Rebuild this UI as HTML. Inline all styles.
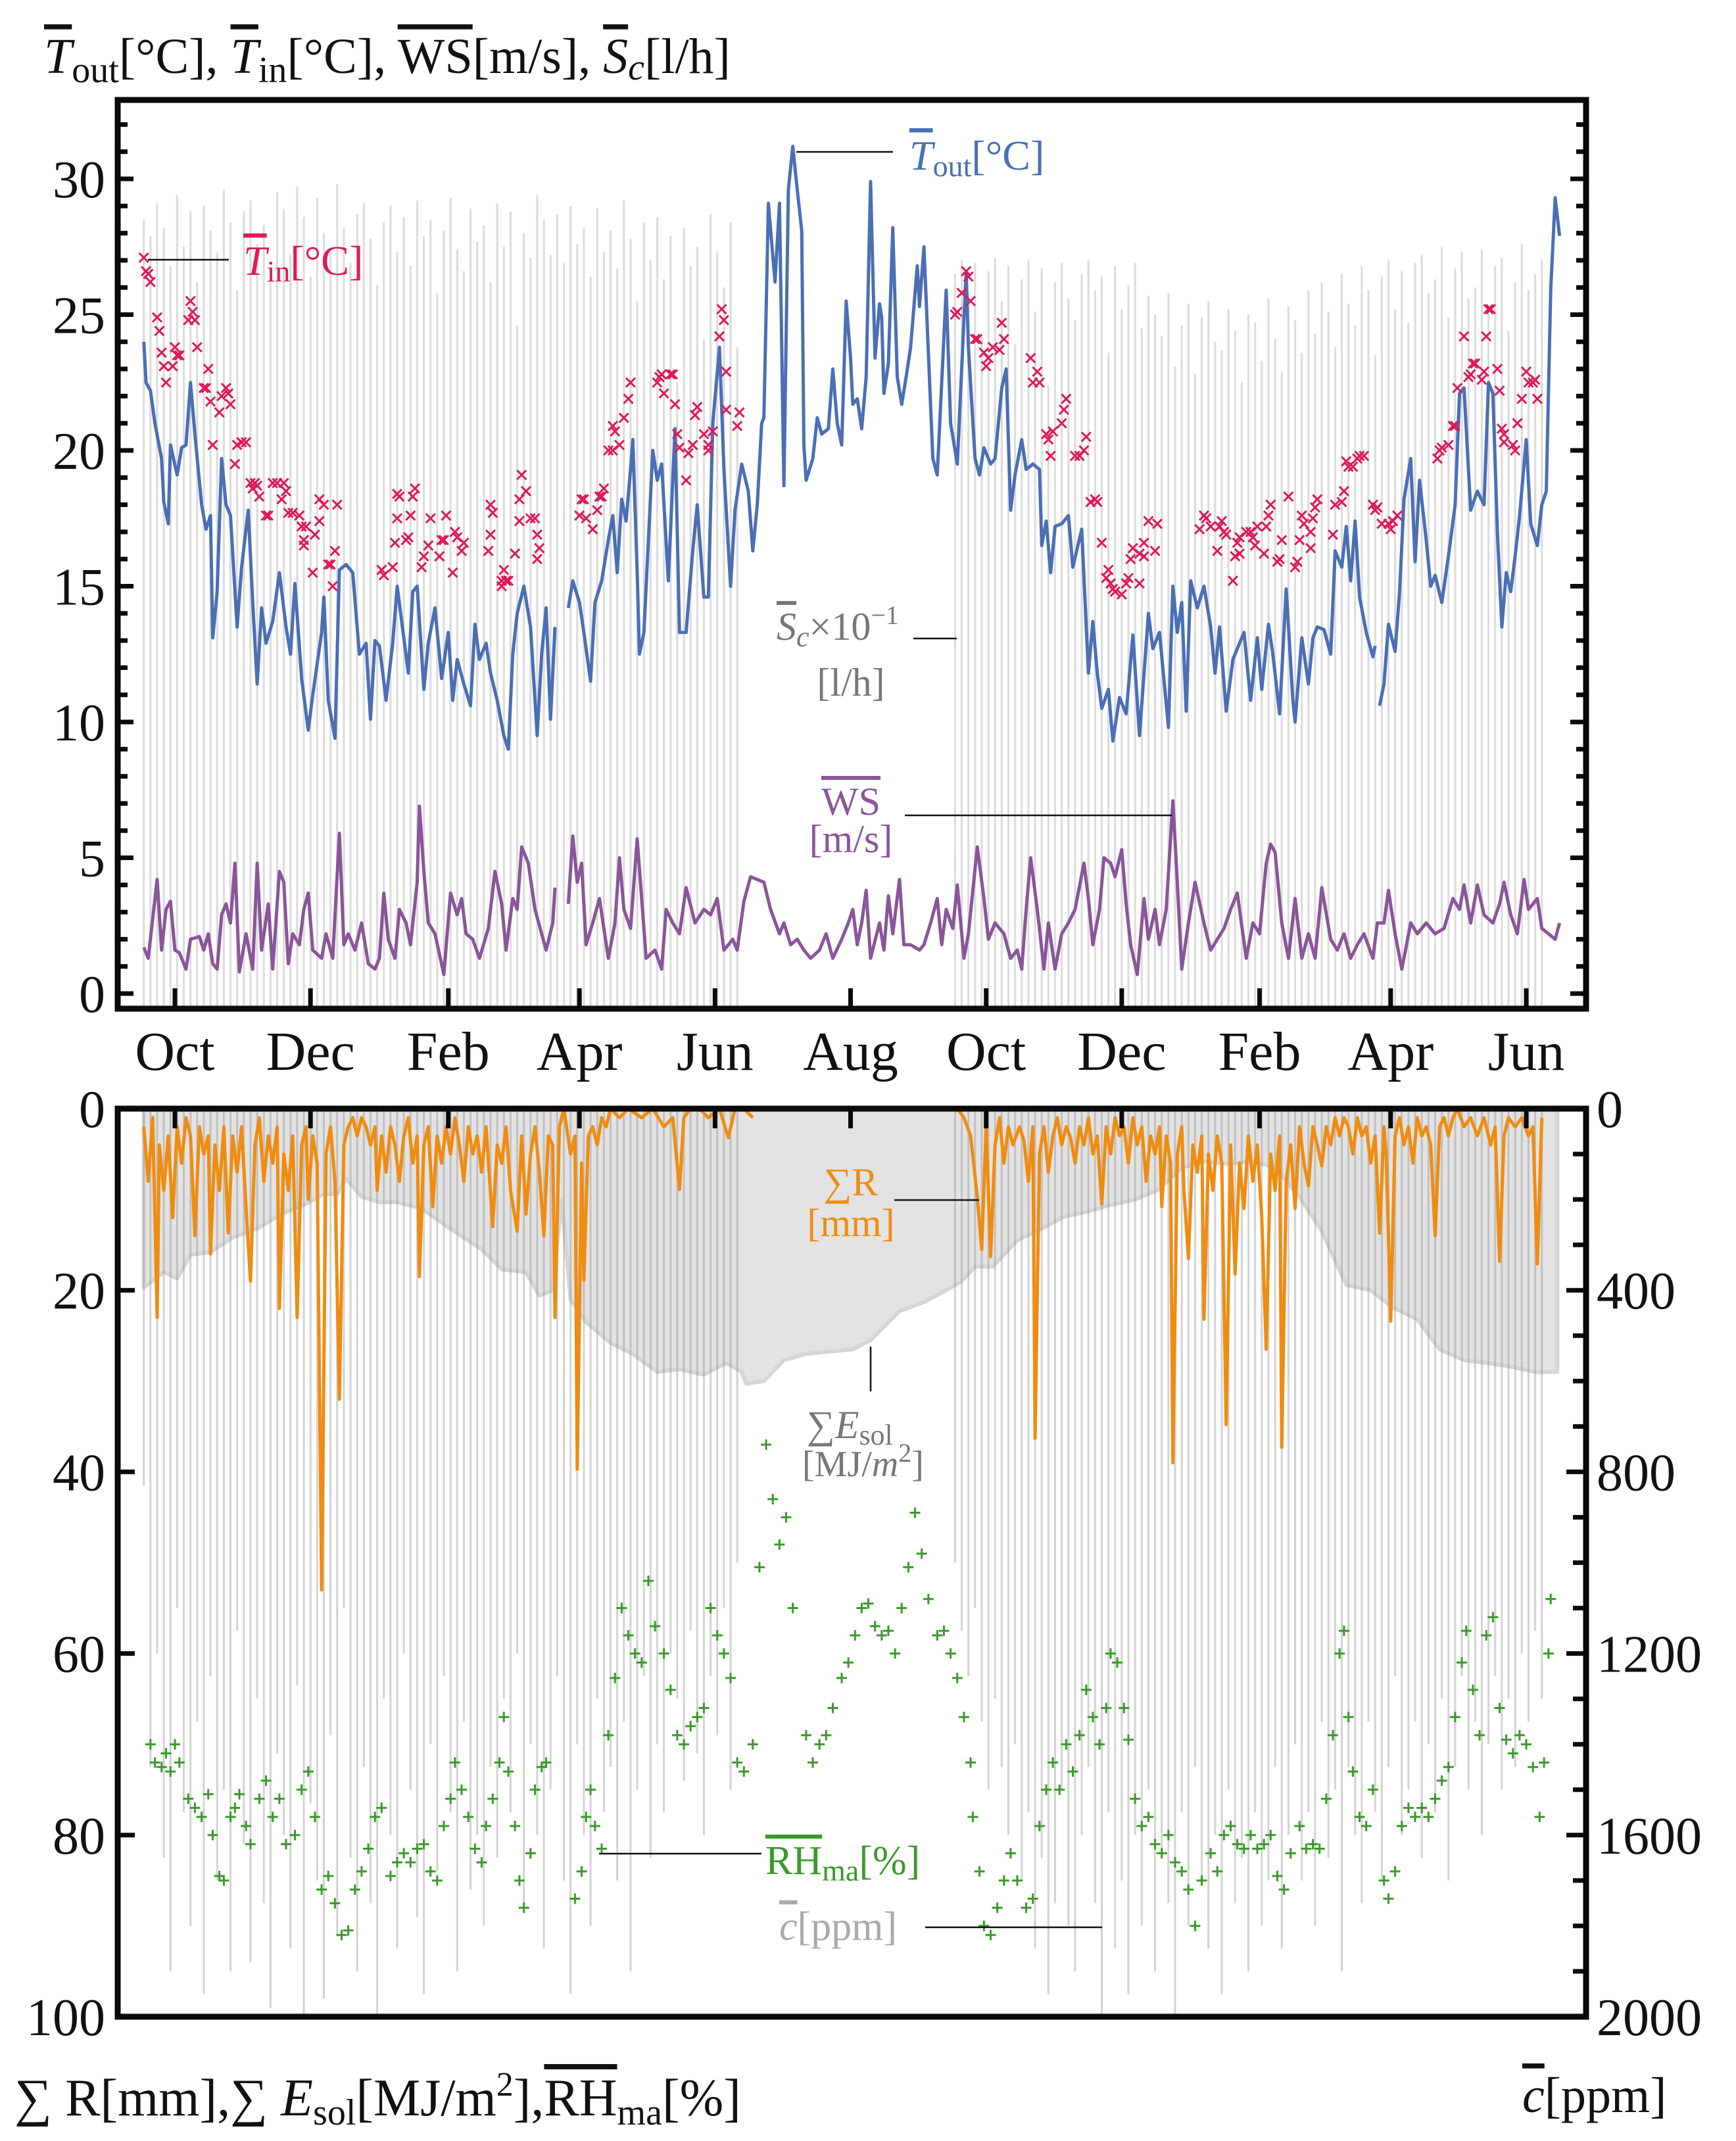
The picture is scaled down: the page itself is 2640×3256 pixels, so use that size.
<!DOCTYPE html>
<html><head><meta charset="utf-8"><title>Climate chart</title>
<style>
html,body{margin:0;padding:0;background:#fff;}
svg{display:block;font-family:"Liberation Serif","DejaVu Serif",serif;}
</style></head>
<body>
<svg id="chart" width="2640" height="3256" viewBox="0 0 2640 3256" xmlns="http://www.w3.org/2000/svg">
<defs>
<clipPath id="clipTop"><rect x="183" y="156" width="2225" height="1374"/></clipPath>
<clipPath id="clipBot"><rect x="183" y="1690" width="2225" height="1373"/></clipPath>
</defs>
<rect x="0" y="0" width="2640" height="3256" fill="#fff"/>
<g id="topMarks" clip-path="url(#clipTop)"></g>
<g id="botMarks" clip-path="url(#clipBot)"></g>
<g id="axes"></g>

<text x="67" y="111" font-size="76" fill="#111"><tspan font-style="italic" text-decoration="overline">T</tspan><tspan font-size="56" dy="14">out</tspan><tspan dy="-14">[°C], </tspan><tspan font-style="italic" text-decoration="overline">T</tspan><tspan font-size="56" dy="14">in</tspan><tspan dy="-14">[°C], </tspan><tspan text-decoration="overline">WS</tspan><tspan>[m/s], </tspan><tspan font-style="italic" text-decoration="overline">S</tspan><tspan font-style="italic" font-size="56" dy="10">c</tspan><tspan dy="-10">[l/h]</tspan></text>

<line x1="225" y1="395" x2="348" y2="395" stroke="#111" stroke-width="2.5"/>
<text x="370" y="418" font-size="64" fill="#e0195c"><tspan font-style="italic" text-decoration="overline">T</tspan><tspan font-size="46" dy="10">in</tspan><tspan dy="-10">[°C]</tspan></text>

<line x1="1211" y1="231" x2="1358" y2="231" stroke="#111" stroke-width="2.5"/>
<text x="1383" y="258" font-size="64" fill="#4a6fb5"><tspan font-style="italic" text-decoration="overline">T</tspan><tspan font-size="46" dy="10">out</tspan><tspan dy="-10">[°C]</tspan></text>

<text x="1181" y="973" font-size="60" fill="#777"><tspan font-style="italic" text-decoration="overline">S</tspan><tspan font-style="italic" font-size="44" dy="10">c</tspan><tspan dy="-10">×10</tspan><tspan font-size="40" dy="-24">−1</tspan></text>
<line x1="1389" y1="971" x2="1455" y2="971" stroke="#111" stroke-width="2.5"/>
<text x="1294" y="1058" font-size="60" fill="#777" text-anchor="middle">[l/h]</text>

<text x="1294" y="1239" font-size="60" fill="#8a559a" text-anchor="middle" text-decoration="overline">WS</text>
<text x="1294" y="1296" font-size="60" fill="#8a559a" text-anchor="middle">[m/s]</text>
<line x1="1376" y1="1240" x2="1782" y2="1240" stroke="#111" stroke-width="2.5"/>

<text x="1294" y="1818" font-size="60" fill="#f08c10" text-anchor="middle">∑R</text>
<text x="1294" y="1880" font-size="60" fill="#f08c10" text-anchor="middle">[mm]</text>
<line x1="1360" y1="1825" x2="1489" y2="1825" stroke="#111" stroke-width="2.5"/>

<line x1="1324" y1="2048" x2="1324" y2="2116" stroke="#111" stroke-width="2.5"/>
<text x="1227" y="2187" font-size="60" fill="#777"><tspan>∑</tspan><tspan font-style="italic">E</tspan><tspan font-size="44" dy="10">sol</tspan></text>
<text x="1220" y="2245" font-size="56" fill="#777"><tspan>[MJ/</tspan><tspan font-style="italic">m</tspan><tspan font-size="40" dy="-22">2</tspan><tspan dy="22">]</tspan></text>

<line x1="911" y1="2819" x2="1158" y2="2819" stroke="#111" stroke-width="2.5"/>
<text x="1164" y="2850" font-size="62" fill="#3a9a2a"><tspan text-decoration="overline">RH</tspan><tspan font-size="46" dy="10">ma</tspan><tspan dy="-10">[%]</tspan></text>

<text x="1185" y="2950" font-size="62" fill="#aaa"><tspan font-style="italic" text-decoration="overline">c</tspan><tspan>[ppm]</tspan></text>
<line x1="1407" y1="2931" x2="1676" y2="2931" stroke="#111" stroke-width="2.5"/>

<text x="22" y="3217" font-size="80" fill="#111"><tspan>∑ R[mm],∑ </tspan><tspan font-style="italic">E</tspan><tspan font-size="56" dy="14">sol</tspan><tspan dy="-14">[MJ/m</tspan><tspan font-size="52" dy="-30">2</tspan><tspan dy="30">],</tspan><tspan text-decoration="overline">RH</tspan><tspan font-size="56" dy="14">ma</tspan><tspan dy="-14">[%]</tspan></text>
<text x="2315" y="3212" font-size="76" fill="#111"><tspan font-style="italic" text-decoration="overline">c</tspan><tspan>[ppm]</tspan></text>
</svg>

<script>
// ---------- DATA ----------
const monthLabels = ["Oct","Dec","Feb","Apr","Jun","Aug","Oct","Dec","Feb","Apr","Jun"];
const monthDays = [0,61,123,182,243,304,365,426,488,547,608];
const topTicks = [0,5,10,15,20,25,30];
const leftTicks = [0,20,40,60,80,100];
const rightTicks = [0,400,800,1200,1600,2000];

// outdoor temperature [day, °C]; null = gap
const toutData = [[-14,24.0],[-13,22.5],[-11,22.2],[-9,21],[-6,19.7],[-5,18.1],[-3,17.3],[-2,20.2],[1,19.1],[3,20.1],[5,20.2],[7,22.5],[9,20.6],[12,18],[14,17.1],[16,17.6],[17,13.1],[19,14.8],[21,19.7],[23,18],[25,17.6],[28,13.5],[30,15.7],[33,17.8],[35,14.4],[37,11.4],[39,14.2],[41,12.9],[44,13.7],[47,15.5],[50,13.5],[52,12.5],[54,15.1],[57,11.6],[60,9.7],[62,11],[66,13.3],[67,14.6],[69,10.8],[72,9.4],[74,15.6],[77,15.8],[80,15.5],[83,12.5],[86,12.9],[88,10.1],[90,13],[92,12.8],[95,10.8],[98,12.9],[100,15],[103,13.1],[105,11.8],[107,14.8],[109,15],[112,11.2],[114,12.9],[117,14.2],[120,11.6],[123,13.3],[125,10.8],[127,12.3],[130,11.4],[133,10.6],[135,13.6],[137,12.3],[140,12.9],[142,11.8],[145,10.8],[148,9.5],[150,9.0],[152,12.5],[154,14],[157,15],[160,13.5],[163,9.5],[165,12.5],[167,14.2],[169,10.1],[171,13.5],[174,null],[177,14.2],[179,15.2],[182,14.4],[184,13.3],[187,11.5],[189,14.4],[192,15.2],[195,16.7],[197,17.6],[199,15.5],[201,18.2],[203,17.4],[205,19.3],[206,20.4],[208,15.5],[209,12.5],[211,13.3],[215,20],[217,18.9],[219,19.5],[222,15.2],[225,20.8],[227,13.3],[230,13.3],[233,16.3],[235,18],[238,14.6],[240,14.6],[242,21],[245,23.8],[247,19.3],[250,15],[252,17.8],[255,19.5],[258,18.5],[260,16.3],[262,18],[264,21],[265,21.2],[267,29.1],[270,26.2],[272,29.1],[274,18.7],[276,29.6],[278,31.2],[280,29.6],[282,28.1],[283,20.2],[284,18.9],[287,19.7],[289,21.2],[291,20.6],[294,20.8],[296,23],[298,21],[300,20.2],[302,25.5],[304,23.4],[305,21.7],[307,21.9],[309,20.8],[311,22.7],[313,29.9],[315,23.4],[317,25.4],[318,24.9],[319,22.1],[321,23.2],[323,28.2],[325,22.7],[327,21.7],[329,22.7],[331,23.8],[334,26.8],[335,25.3],[337,27.5],[339,23.6],[341,19.7],[343,19.1],[345,22.5],[347,25.9],[349,21],[352,19.5],[356,26.6],[357,23.8],[360,19.7],[362,19.1],[364,20.1],[367,19.5],[369,19.7],[372,22.3],[374,23],[376,17.8],[378,19.1],[381,20.4],[383,19.3],[386,19.5],[389,19.3],[390,16.5],[392,17.4],[394,15.5],[396,17.2],[399,17.3],[402,17.6],[404,15.7],[408,17.1],[411,11.8],[413,13.7],[415,11.8],[417,10.5],[420,11.2],[422,9.3],[425,10.9],[428,10.3],[431,13.2],[434,9.5],[438,14],[440,12.7],[443,13.3],[447,9.8],[449,15],[451,13.3],[453,14.4],[455,10.4],[457,15.2],[460,14.2],[463,15],[466,13.5],[468,11.8],[470,13.5],[473,10.4],[476,12.3],[478,12.7],[481,13.3],[484,10.8],[487,13.1],[489,11.2],[492,13.6],[494,12.5],[497,10.3],[500,14.9],[503,10.8],[504,10],[507,13.1],[510,11.4],[512,13.1],[514,13.5],[517,13.4],[520,12.5],[522,16.3],[525,15.7],[527,17.2],[529,15.2],[531,17.4],[533,14.6],[536,13.3],[539,12.4],[540,12.8],[541,null],[542,10.6],[544,11.4],[546,13.6],[549,12.6],[551,14.8],[553,18.2],[556,19.7],[558,15.9],[560,18.9],[563,16.7],[565,15],[567,15.4],[570,14.4],[573,16.1],[576,18],[578,22.1],[580,22.3],[583,17.8],[586,18.5],[589,18],[591,22.5],[593,22.1],[595,17],[597,13.5],[599,15.5],[601,14.8],[603,16.1],[605,17.6],[608,20.4],[610,17.3],[613,16.5],[615,18],[617,18.5],[619,25.9],[621,29.3],[623,27.9]];

// wind speed [day, m/s]
const wsData = [[-14,1.7],[-12,1.3],[-8,4.2],[-6,1.6],[-4,3.1],[-2,3.4],[0,1.6],[2,1.5],[5,0.9],[7,2.0],[11,2.1],[13,1.6],[15,2.2],[17,1.1],[19,0.9],[21,2.9],[23,3.3],[25,2.6],[27,4.8],[29,0.8],[32,2.2],[35,0.9],[37,4.8],[39,1.6],[42,3.3],[44,0.9],[47,4.5],[49,4.1],[51,1.1],[53,2.2],[56,1.8],[58,3.1],[60,3.7],[62,1.6],[66,1.3],[68,2.2],[71,1.3],[74,5.9],[76,1.8],[78,2.2],[81,1.6],[84,2.6],[87,1.1],[90,0.9],[92,1.3],[94,3.7],[96,2],[99,1.3],[101,3.1],[104,2.6],[106,1.8],[109,4.1],[110,6.9],[112,4.5],[114,2.6],[117,2.2],[121,0.7],[124,3.7],[127,2.9],[129,3.5],[131,2.2],[134,2],[137,1.3],[141,2.4],[144,4.5],[147,3.3],[149,1.6],[152,3.5],[154,3.1],[156,5.4],[159,4.8],[162,3.1],[165,2.2],[167,1.6],[170,2.6],[171,3.9],[174,null],[177,3.3],[179,5.8],[181,4.1],[183,4.8],[185,1.8],[188,2.6],[191,3.5],[195,1.3],[198,2.6],[200,5],[202,3.1],[205,2.4],[208,5.7],[210,3.5],[212,1.3],[216,1.6],[219,0.9],[221,3.1],[224,2.6],[227,2.2],[230,3.9],[234,2.6],[238,3.1],[241,2.9],[244,3.5],[247,1.6],[251,2],[253,1.6],[256,3.4],[259,4.3],[262,4.2],[265,4.1],[268,3.1],[272,2.2],[274,2.6],[277,1.8],[280,2],[283,1.6],[286,1.3],[290,1.6],[293,2.2],[296,1.3],[300,2],[303,2.6],[305,3.1],[307,1.8],[309,2.6],[311,3.8],[313,1.3],[317,2.6],[319,1.6],[321,3.6],[323,2.2],[326,4.2],[328,1.8],[331,1.8],[335,1.6],[337,1.8],[340,2.6],[343,3.5],[345,1.8],[347,3.1],[350,2.4],[352,4],[355,1.3],[357,2.2],[361,5.4],[364,3.5],[366,2],[369,2.6],[373,2.2],[376,1.3],[379,1.6],[381,0.9],[383,3.1],[385,5],[388,3.1],[391,0.9],[393,2.6],[396,0.9],[399,2.2],[402,2.6],[405,3.1],[409,4.8],[411,3.5],[413,1.8],[416,3.1],[418,5],[421,4.8],[423,4.3],[426,5.3],[428,3.3],[430,1.8],[433,0.7],[436,3.5],[438,2],[441,3.1],[443,1.8],[446,3.1],[449,7.1],[451,4.1],[453,0.9],[456,2.6],[459,4.1],[463,2.6],[466,1.6],[469,2],[472,2.4],[475,3.1],[478,3.7],[482,1.3],[485,2.6],[488,2.2],[491,4.8],[493,5.5],[495,5.2],[498,2.6],[501,1.3],[504,3.5],[507,1.3],[510,2.2],[513,1.3],[516,3.9],[520,2],[523,1.6],[526,2.2],[529,1.3],[532,1.8],[535,2.2],[539,1.3],[541,2.6],[544,2.6],[546,3.8],[549,2.2],[552,0.9],[556,2.6],[559,2.2],[563,2.6],[567,2.2],[571,2.4],[575,3.5],[578,3.1],[580,4],[583,2.6],[586,4],[589,2.9],[593,2.6],[596,3.3],[598,4.1],[601,2.9],[604,2.2],[607,4.2],[609,3.1],[613,3.5],[615,2.4],[618,2.2],[621,2],[623,2.6]];

// indoor temperature scatter [day, °C]
const tinData = [[-14,27.1],[-13,26.6],[-12,26.5],[-11,26.2],[-8,24.9],[-7,24.4],[-6,23.6],[-5,23.1],[-4,22.5],[-1,23.1],[0,23.8],[1,23.5],[2,23.5],[6,24.8],[7,25.5],[8,25.1],[9,24.8],[10,23.8],[13,22.3],[14,22.3],[15,23],[16,21.8],[17,20.2],[20,21.4],[21,22],[23,22.3],[24,22.1],[25,21.7],[27,19.5],[28,20.2],[30,20.3],[32,20.3],[34,18.8],[35,18.6],[36,18.8],[37,18.7],[38,18.3],[41,17.6],[42,17.6],[44,18.8],[46,18.8],[48,18.2],[49,18.8],[50,18.5],[51,17.7],[53,17.7],[56,17.6],[57,17.2],[58,16.7],[59,17.2],[58,16.5],[62,15.5],[63,16.9],[65,17.4],[65,18.2],[67,18],[69,15.8],[70,15.8],[71,15],[72,16.3],[73,18],[93,15.6],[94,15.4],[98,15.7],[99,16.6],[100,17.5],[100,18.4],[101,18.3],[104,16.7],[105,16.8],[106,17.6],[107,18.3],[108,18.6],[111,15.7],[112,16.1],[114,16.5],[115,17.5],[119,16.1],[120,16.7],[121,16.7],[122,17.6],[125,15.5],[126,17],[127,16.8],[129,16.3],[130,16.6],[141,16.3],[142,16.9],[142,18],[143,17.7],[147,15.2],[147,15],[148,15.6],[149,15.2],[150,15.2],[153,16.2],[155,17.4],[155,18.2],[156,19.1],[158,18.5],[160,17.5],[162,17.5],[163,16.9],[163,16],[164,16.4],[182,17.6],[183,18.2],[184,18.2],[185,17.5],[188,17.1],[190,17.8],[191,18.3],[192,18.3],[193,18.6],[195,20],[197,20],[197,20.9],[198,20.7],[200,20.2],[202,21.2],[204,21.9],[205,22.5],[217,22.5],[218,22.7],[219,22.8],[220,22.1],[223,22.8],[224,22.8],[225,21.7],[226,20.6],[227,20.1],[230,18.9],[231,19.9],[233,20.2],[234,21.3],[235,21.6],[238,20.6],[240,20],[240,20.2],[242,20.7],[245,24.2],[246,25.2],[247,24.8],[248,22.9],[248,21.5],[253,20.9],[254,21.4],
[351,25],[352,25.1],[354,25.8],[356,26.6],[357,26.4],[358,25.5],[360,24.1],[361,24.1],[364,23.6],[365,23.1],[366,23.4],[368,23.8],[371,23.7],[372,24.7],[373,24.1],[385,23.4],[386,22.5],[388,22.9],[389,22.5],[392,20.6],[393,20.4],[394,19.8],[395,20.7],[399,21],[400,21.5],[401,21.9],[405,19.8],[407,19.8],[409,20],[410,20.5],[412,18.1],[414,18.2],[415,18.1],[417,16.6],[419,15.3],[420,15.6],[421,15.1],[422,14.9],[423,14.8],[426,14.7],[428,15.1],[429,15.3],[430,16],[431,16.4],[434,16.2],[434,15.1],[436,16.1],[436,16.6],[438,17.4],[441,16.3],[442,17.3],[461,17.1],[463,17.6],[464,17.5],[466,17.2],[469,16.3],[470,17.2],[471,17.4],[472,17],[473,16.9],[476,15.2],[477,16.1],[478,16.6],[479,16.2],[479,16.8],[482,17],[484,17],[485,16.8],[486,16.5],[487,17.2],[490,16.2],[491,17.2],[492,17.6],[493,18],[496,15.9],[497,16],[498,16.7],[501,18.3],[504,15.7],[505,15.9],[506,16.7],[507,17.6],[508,17.3],[511,16.4],[511,17],[512,17.5],[513,17.9],[514,18.2],[521,16.9],[522,18],[525,18.1],[526,18.5],[527,19.6],[528,19.4],[530,19.4],[532,19.7],[533,19.8],[535,19.8],[539,18],[540,17.8],[541,17.9],[543,17.3],[546,17.3],[547,17.1],[548,17.4],[550,17.6],[568,19.7],[569,20],[570,20.1],[573,20.2],[575,20.9],[576,20.9],[577,22.3],[580,24.2],[582,22.7],[583,22.8],[584,23.2],[585,23.2],[588,22.6],[589,22.9],[590,24.2],[591,25.2],[592,25.2],[595,23],[596,22.2],[597,20.8],[598,20.6],[598,20.3],[602,20.2],[603,20],[604,21],[606,21.9],[608,22.9],[609,22.5],[611,22.5],[612,22.6],[613,21.9]];

// Sc×10^-1 daily vent. values (every 3rd day), period 1 starts day -14, period 2 starts day 351
const scStart1 = -14, scStart2 = 351, scStep = 3;
const sc1 = [28.5,27.9,29.1,28.2,26.8,29.4,27.5,28.8,26.2,29.0,28.1,27.3,29.6,28.4,25.9,28.8,29.2,27.6,28.3,26.7,29.5,28.9,27.2,29.7,28.6,26.4,29.3,28.0,27.4,29.8,28.2,26.9,28.7,29.1,27.8,26.1,28.4,29.0,27.3,28.6,26.8,29.2,27.9,28.5,25.8,28.1,29.3,27.4,26.6,28.9,27.7,28.3,26.2,29.1,27.5,28.8,24.6,28.0,27.1,29.4,28.5,27.2,28.7,26.9,29.0,27.6,28.2,26.4,28.9,27.3,28.1,26.7,29.2,27.8,25.5,28.4,27.0,28.6,26.3,27.9,22.5,28.2,26.8,27.5,24.1,28.7,27.3,26.0,28.4,23.8];
const sc2 = [26.5,27.0,25.8,26.9,24.2,26.6,27.1,25.5,26.8,23.9,26.3,27.0,25.1,26.7,22.4,26.2,26.9,25.6,24.8,26.5,27.0,25.9,26.4,23.6,26.8,25.2,26.1,26.9,24.5,25.7,25.0,24.2,25.8,23.1,24.6,25.4,22.8,24.9,25.5,24.0,23.7,25.2,24.4,22.5,25.0,24.7,23.3,25.6,24.1,22.9,25.3,24.8,23.6,25.9,24.3,26.2,25.1,23.8,26.5,25.4,24.6,26.8,25.9,23.5,26.4,27.0,25.2,26.6,24.7,26.9,27.2,25.8,26.3,27.5,24.9,26.7,27.3,25.6,26.0,27.4,25.3,26.8,27.1,24.4,26.2,27.6,25.9,26.5,27.0];
// CO2 concentration [ppm], same days as Sc
const c1 = [830,1450,1200,1650,1900,1100,1550,1800,1350,1950,1250,1700,1500,1900,1150,1620,1880,1300,1750,1980,1420,1600,1850,1270,2000,1530,1700,1960,1380,1820,1100,1650,1900,1450,1750,2000,1300,1600,1850,1200,1500,1780,1950,1400,1680,1250,1550,1900,1350,1720,1600,1800,1450,1650,1300,1550,1200,1750,1400,1600,1850,1500,1250,1700,1950,1400,1600,1800,1300,1550,1450,1700,1350,1900,1500,1250,1650,1400,1550,1200,1300,1480,1150,1420,1600,1250,1380,1100,1500,1000];
const c2 = [1000,1150,1250,1100,1350,1500,1300,1450,1600,1400,1700,1550,1850,1650,1950,1750,1500,1800,1900,1600,1450,1750,2000,1550,1850,1700,1950,1600,1800,1500,1900,1650,1750,2000,1550,1800,1450,1700,1850,1600,1950,1500,1750,1650,1900,1550,1800,1700,1450,1850,1600,1400,1700,1550,1800,1350,1650,1500,1900,1450,1600,1750,1350,1550,1700,1450,1250,1600,1500,1350,1650,1400,1550,1300,1700,1450,1250,1500,1350,1600,1400,1250,1500,1300,1450,1200,1350,1150,1300];

// cumulative solar energy [day, MJ/m2 scaled]
const esolData = [[-14,19.7],[-5,18],[1,18.7],[7,16.1],[16,15.8],[26,14.2],[37,13.2],[48,11.6],[58,10.6],[67,9.4],[73,9.4],[77,7.7],[84,9.7],[92,10.3],[100,10.3],[111,11],[122,12.9],[130,14.2],[138,15.5],[147,17.7],[158,18],[164,20.6],[170,20],[174,10],[178,21],[185,23.5],[196,25.8],[206,27],[217,29],[227,28.7],[238,29.3],[248,28],[255,29],[257,30.3],[265,30],[274,27.7],[284,27],[305,26.5],[313,25.5],[326,22.3],[337,21.3],[347,20],[354,19],[360,17.4],[368,17.4],[379,14.5],[390,13.2],[400,11.9],[411,11.3],[421,10.6],[432,10],[442,9],[453,6.5],[464,5.8],[474,6.1],[485,5.8],[495,6.5],[506,9.7],[516,13.5],[527,19.4],[538,20],[548,21.9],[559,23.2],[569,26.5],[580,27.7],[590,28],[601,28.4],[612,29],[622,29]];

// daily rain [day, mm]; null = no data
const rainData = [[-14,2],[-12,8],[-10,1],[-8,23],[-7,4],[-5,9],[-3,3],[-1,12],[1,2],[3,6],[5,1],[7,3],[9,14],[11,2],[13,5],[15,3],[16,16],[18,4],[20,9],[22,2],[24,13.7],[26,3],[28,7],[30,2],[32,11],[34,19],[36,4],[38,1],[40,8],[42,3],[44,6],[46,2],[47,22],[49,5],[51,9],[53,3],[55,23],[57,4],[59,2],[60,10],[62,3],[64,6],[66,53],[68,5],[70,2],[72,8],[74,32],[76,4],[78,2],[80,1],[82,3],[84,1],[86,2],[88,4],[90,2],[91,9],[93,3],[95,7],[97,2],[99,4],[101,8],[103,3],[105,1],[107,6],[109,3],[110,18.5],[112,4],[114,2],[116,10.8],[118,3],[120,6],[122,2],[124,5],[126,1],[128,4],[130,8],[132,2],[134,5],[136,3],[138,7],[140,2],[143,13],[145,4],[147,6],[149,2],[151,9],[154,13.5],[156,3],[158,11.6],[160,5],[162,2],[164,7],[166,14],[168,3],[170,4],[171,23],[173,2],[175,0],[178,5],[180,3],[181,39.7],[183,6],[184,18.9],[186,3],[188,2],[190,4],[192,1],[194,2],[196,0],[200,1],[204,0],[210,1],[215,0],[220,2],[224,1],[227,8.9],[229,1],[232,0],[236,0],[240,1],[245,0],[249,3.2],[252,0],[256,0],[260,1],[262,null],
[352,0],[355,1],[358,3],[361,9.7],[363,15.5],[365,2],[367,16.3],[369,4],[371,1],[373,6],[375,2],[377,4],[380,2],[382,3.5],[384,8],[386,2],[387,36.3],[389,5],[391,2],[393,7],[395,3],[397,1],[399,4],[401,2],[403,3.2],[405,6],[407,2],[409,4],[411,1],[413,5],[415,3],[417,10.5],[419,2],[421,5],[423,1],[425,3],[427,2],[429,6],[431,1],[433,4],[435,2],[437,8],[439,3],[441,5],[443,2],[444,10.8],[446,3],[448,6],[449,39],[451,5],[453,2],[454,9],[456,16.5],[458,4],[460,7],[462,3],[463,23.2],[465,5],[467,9],[469,3],[471,6],[473,34.8],[475,4],[477,18.2],[479,6],[481,11],[483,3],[485,8],[487,4],[489,12],[491,26.5],[493,5],[495,9],[497,3],[498,37.3],[500,8],[502,4],[504,11],[506,2],[508,6],[510,8.5],[512,2],[514,4],[516,6.3],[518,2],[520,4],[522,1],[524,3],[526,1],[528,2],[530,5],[532,1],[534,3],[536,2],[538,6],[540,3],[542,13.7],[544,2],[545,5],[547,23.4],[549,3],[551,1],[553,4],[555,2],[557,6],[559,1],[561,3],[563,2],[565,4],[567,14],[569,2],[571,1],[573,3],[575,1],[577,0],[580,2],[583,1],[586,3],[589,1],[592,4],[594,2],[596,16.8],[598,3],[600,1],[603,2],[606,1],[609,3],[611,2],[613,17.1],[615,1]];

// moving-average relative humidity
const rhDays = [-11,-9,-6,-4,-2,0,2,6,9,12,15,17,20,22,25,27,29,32,34,38,41,44,47,50,54,57,60,63,66,69,72,75,78,81,84,87,90,93,97,100,103,106,109,112,115,118,121,124,126,129,132,135,138,140,143,146,148,150,153,155,157,160,162,165,167,180,183,185,187,189,192,195,198,201,204,207,210,213,216,220,223,226,229,232,235,238,241,244,247,250,253,256,260,263,266,269,272,275,278,284,287,290,293,296,300,303,306,309,312,315,318,321,324,327,330,333,336,339,343,346,349,352,355,358,359,362,364,367,370,373,376,379,383,386,389,392,395,398,401,404,407,410,413,416,419,421,424,427,429,432,435,438,441,444,447,450,453,456,459,462,466,469,472,475,478,481,484,487,490,493,496,499,502,506,509,512,515,518,521,524,526,528,530,533,536,539,544,546,549,552,555,558,561,564,567,570,573,576,579,581,584,587,590,593,596,599,602,605,608,611,614,616,618,619];
const rhVals = [70,72,72.5,71,73,70,72,76,77,78,75.5,80,84.5,85,78,77,75.5,79,81,76,74,78,76,81,80,75,73,78,86,84.5,87.5,91,90.5,86,84,81.5,78,77,84.5,83,82,83,81.5,81,84,85,79,76,72,75,78,81.5,83,79,76,72,67,73,79,85,88,82,75,72.5,72,87,84,78,75,79,81.5,69,62.7,55,58,60,61,52,57,60,64,69,70,68,67,66,55,58,60,62.7,72,73,70,50.5,37,43,48,45,55,69,72,70,69,66,62.7,61,58,55,54.5,57,58,57.5,60,55,50.5,44.5,49,54,58,57.5,60,62.7,67,72,78,84,90,91,88,85,82,85,88,87,79,75,72,75,70,73,69,64,67,70,66,60,61,66,69.5,76,79,78,81,82,80,83,84,86,90,85,82,84,80,79,81,81.5,80,81.5,81,80,84.5,86,82,79,81.5,81,81.5,76,69,60,57.5,67,73,78,79,75,85,87,84,79,77,78,77,78,76,74,72.5,67,61,57.5,64,69,58,56,66,69.5,71,69,70,72.5,78,72,60,54];

// ---------- SCALES ----------
const NS = "http://www.w3.org/2000/svg";
function X(d){ return 266 + d*3.38; }
function YT(v){ return 1511 - v*41.3; }
function YB(v){ return 1686 + v*13.81; }
function YP(p){ return 1686 + p*0.6905; }

function mk(tag, attrs, parent){
  const el = document.createElementNS(NS, tag);
  for (const k in attrs) el.setAttribute(k, attrs[k]);
  parent.appendChild(el);
  return el;
}
function pathFrom(pairs, yf){
  let d = "", pen = false;
  for (const [day, v] of pairs){
    if (v === null || v === undefined){ pen = false; continue; }
    d += (pen ? "L" : "M") + X(day).toFixed(1) + " " + yf(v).toFixed(1);
    pen = true;
  }
  return d;
}

const topG = document.getElementById("topMarks");
const botG = document.getElementById("botMarks");
const axG = document.getElementById("axes");

// ---------- TOP PLOT ----------
const scG = mk("g", {}, topG);


[[scStart1, sc1],[scStart2, sc2]].forEach(([s, arr]) => {
  arr.forEach((v, i) => {
    const d = s + i*scStep;
    const ln = mk("line", {x1: X(d), x2: X(d), y1: YT(-0.7), y2: YT(v), stroke: "#dddddd", "stroke-width": 3.2}, scG);
    
    
  });
});

const wsPath = mk("path", {d: pathFrom(wsData, YT), fill: "none", stroke: "#8a559a", "stroke-width": 5, "stroke-linejoin": "round"}, topG);



const toutPath = mk("path", {d: pathFrom(toutData, YT), fill: "none", stroke: "#4a6fb5", "stroke-width": 5, "stroke-linejoin": "round"}, topG);



const tinG = mk("g", {stroke: "#e0195c", "stroke-width": 3}, topG);


tinData.forEach(([d, v]) => {
  const cx = X(d), cy = YT(v), r = 7;
  const m = mk("path", {d: `M${cx-r} ${cy-r}L${cx+r} ${cy+r}M${cx-r} ${cy+r}L${cx+r} ${cy-r}`}, tinG);
  
  
});

// ---------- BOTTOM PLOT ----------
const esolPts = [];
esolData.forEach(([d, v]) => esolPts.push(X(d).toFixed(1) + "," + YB(v).toFixed(1)));
const firstE = esolData[0][0], lastE = esolData[esolData.length-1][0];
const esolPoly = mk("polygon", {points: X(firstE) + "," + YB(0) + " " + esolPts.join(" ") + " " + X(lastE) + "," + YB(0), fill: "#e3e3e3", stroke: "#d6d6d6", "stroke-width": 6, "stroke-linejoin": "round"}, botG);



const cG = mk("g", {}, botG);


[[scStart1, c1],[scStart2, c2]].forEach(([s, arr]) => {
  arr.forEach((p, i) => {
    const d = s + i*scStep;
    const ln = mk("line", {x1: X(d), x2: X(d), y1: YP(0), y2: YP(p), stroke: "rgba(140,140,140,0.38)", "stroke-width": 3}, cG);
    
    
  });
});

const rainPath = mk("path", {d: pathFrom(rainData, YB), fill: "none", stroke: "#f08c10", "stroke-width": 5, "stroke-linejoin": "round"}, botG);



const rhG = mk("g", {stroke: "#3a9a2a", "stroke-width": 3}, botG);


const nRh = Math.min(rhDays.length, rhVals.length);
for (let i = 0; i < nRh; i++){
  const cx = X(rhDays[i]), cy = YB(rhVals[i]), r = 8;
  const m = mk("path", {d: `M${cx-r} ${cy}L${cx+r} ${cy}M${cx} ${cy-r}L${cx} ${cy+r}`}, rhG);
  
  
}

// ---------- AXES ----------
const frameTop = mk("rect", {x: 179, y: 152, width: 2233, height: 1382, fill: "none", stroke: "#0a0a0a", "stroke-width": 9}, axG);


const frameBot = mk("rect", {x: 179, y: 1686, width: 2233, height: 1381, fill: "none", stroke: "#0a0a0a", "stroke-width": 9}, axG);



// top y ticks (minor every 1, major every 5)
for (let v = 0; v <= 32; v++){
  const y = YT(v), major = (v % 5 === 0), L = major ? 20 : 11;
  mk("line", {x1: 183, x2: 183+L, y1: y, y2: y, stroke: "#0a0a0a", "stroke-width": 7}, axG);
  mk("line", {x1: 2408, x2: 2408-L, y1: y, y2: y, stroke: "#0a0a0a", "stroke-width": 7}, axG);
}
topTicks.forEach(v => {
  const t = mk("text", {x: 160, y: YT(v)+28, "font-size": 80, "text-anchor": "end", fill: "#111"}, axG);
  t.textContent = v;
  
  
});

// month ticks & labels
monthDays.forEach((d, i) => {
  const x = X(d);
  mk("line", {x1: x, x2: x, y1: 1530, y2: 1503, stroke: "#0a0a0a", "stroke-width": 7}, axG);
  mk("line", {x1: x, x2: x, y1: 1690, y2: 1716, stroke: "#0a0a0a", "stroke-width": 7}, axG);
  const t = mk("text", {x: x, y: 1627, "font-size": 84, "text-anchor": "middle", fill: "#111"}, axG);
  t.textContent = monthLabels[i];
  
  
});

// bottom left ticks
leftTicks.forEach(v => {
  const y = YB(v);
  mk("line", {x1: 183, x2: 205, y1: y, y2: y, stroke: "#0a0a0a", "stroke-width": 7}, axG);
  const t = mk("text", {x: 160, y: y+28, "font-size": 80, "text-anchor": "end", fill: "#111"}, axG);
  t.textContent = v;
  
  
});
// bottom right ticks (minor every 100 ppm)
for (let p = 0; p <= 2000; p += 100){
  const y = YP(p), L = (p % 400 === 0) ? 26 : 16;
  mk("line", {x1: 2408, x2: 2408-L, y1: y, y2: y, stroke: "#0a0a0a", "stroke-width": 7}, axG);
}
rightTicks.forEach(p => {
  const t = mk("text", {x: 2428, y: YP(p)+28, "font-size": 80, "text-anchor": "start", fill: "#111"}, axG);
  t.textContent = p;
  
  
});
</script>
</body></html>
